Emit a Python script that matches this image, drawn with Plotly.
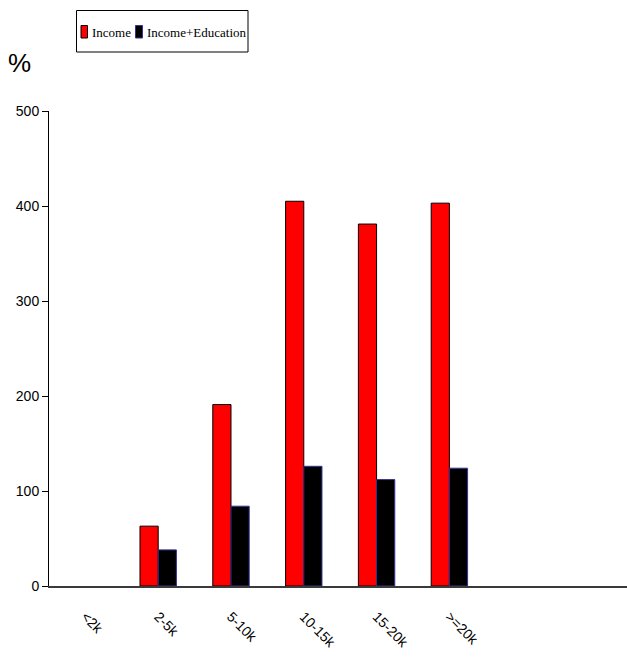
import plotly.graph_objects as go

# Income brackets and the two series (percent)
categories = ["<2k", "2-5k", "5-10k", "10-15k", "15-20k", ">=20k"]
income = [None, 63, 191, 405, 381, 403]
income_education = [None, 38, 84, 126, 112, 124]
series_names = ["Income", "Income+Education"]
y_ticks = [0, 100, 200, 300, 400, 500]

W, H = 627, 657
L, R, T, B = 49, 0, 111, 71
PW, PH = W - L - R, H - T - B


def px_x(px):
    return (px - L) / PW


def px_y(py):
    return (H - B - py) / PH


sans = "Liberation Sans, Arial, sans-serif"

fig = go.Figure()
fig.add_trace(go.Bar(
    x=categories, y=income, name=series_names[0],
    marker=dict(color="#ff0000", line=dict(color="#000000", width=1)),
    showlegend=False,
))
fig.add_trace(go.Bar(
    x=categories, y=income_education, name=series_names[1],
    marker=dict(color="#000000", line=dict(color="#333399", width=1)),
    showlegend=False,
))

fig.update_layout(
    width=W, height=H,
    margin=dict(l=L, r=R, t=T, b=B, autoexpand=False),
    paper_bgcolor="white", plot_bgcolor="white",
    barmode="group", bargap=0.5, bargroupgap=0,
    xaxis=dict(
        type="category", categoryorder="array", categoryarray=categories,
        range=[-0.5, 7.44], showgrid=False, ticks="",
        showline=True, linecolor="#3a3a3a", linewidth=2,
        tickangle=45, ticklabelstandoff=15,
        tickfont=dict(family=sans, size=14, color="black"),
    ),
    yaxis=dict(
        range=[0, 500], tickvals=y_ticks, showgrid=False, zeroline=False,
        showline=True, linecolor="black", linewidth=1,
        ticks="outside", ticklen=6, tickcolor="black", tickwidth=1,
        tickfont=dict(family=sans, size=14, color="black"),
    ),
)

# Axis unit label
fig.add_annotation(
    text="%", xref="paper", yref="paper", x=px_x(19.5), y=px_y(63.5),
    xanchor="center", yanchor="middle", showarrow=False,
    font=dict(family=sans, size=26, color="black"),
)

# Boxed legend across the top
shapes = [
    dict(type="rect", xref="paper", yref="paper",
         x0=px_x(76.5), x1=px_x(248), y0=px_y(52), y1=px_y(10.5),
         line=dict(color="black", width=1), fillcolor="white"),
    dict(type="rect", xref="paper", yref="paper",
         x0=px_x(81), x1=px_x(87.5), y0=px_y(38), y1=px_y(25.5),
         line=dict(color="black", width=1), fillcolor="#ff0000"),
    dict(type="rect", xref="paper", yref="paper",
         x0=px_x(135.5), x1=px_x(142.5), y0=px_y(38), y1=px_y(25.5),
         line=dict(color="#333399", width=1), fillcolor="#000000"),
]
fig.update_layout(shapes=shapes)
legend_font = dict(family="Liberation Serif, Times New Roman, serif", size=13, color="black")
fig.add_annotation(text=series_names[0], xref="paper", yref="paper",
                   x=px_x(89.5), y=px_y(32), xanchor="left", yanchor="middle",
                   showarrow=False, font=legend_font)
fig.add_annotation(text=series_names[1], xref="paper", yref="paper",
                   x=px_x(144.5), y=px_y(32), xanchor="left", yanchor="middle",
                   showarrow=False, font=legend_font)

fig.write_html("out.html")
